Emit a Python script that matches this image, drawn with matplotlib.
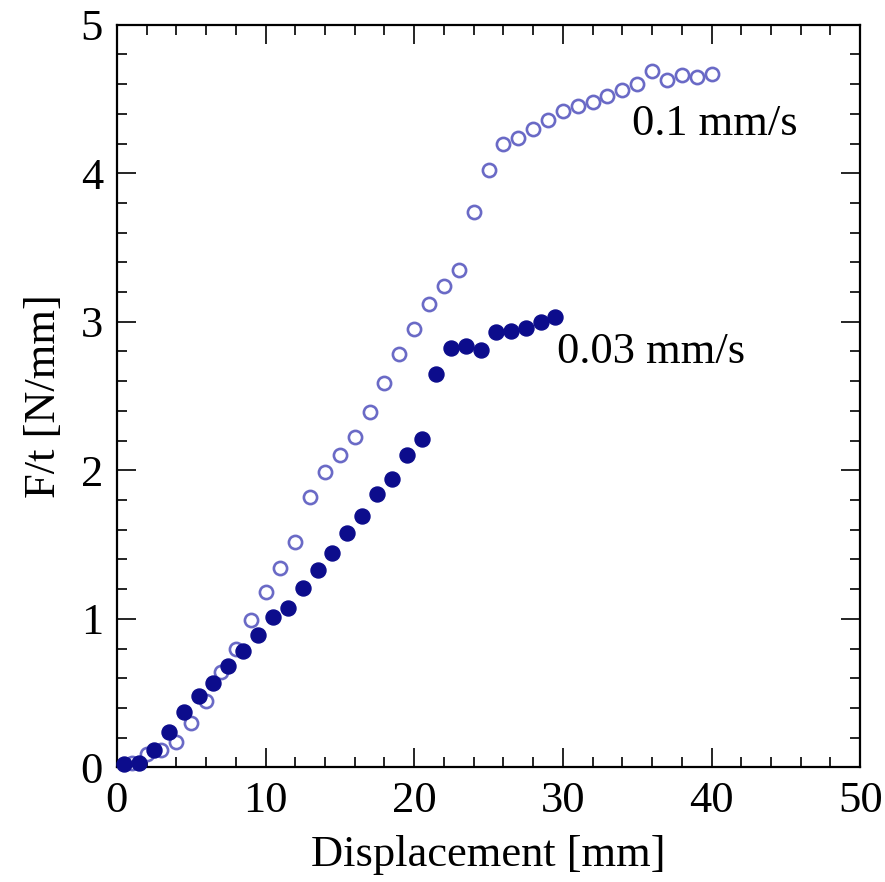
import matplotlib.pyplot as plt
import numpy as np

plt.rcParams['font.family'] = ['Liberation Serif', 'DejaVu Serif']

# 0.1 mm/s (open circles)
x_fast = list(range(1, 41))
y_fast = [0.03, 0.09, 0.12, 0.17, 0.30, 0.45, 0.64, 0.80, 0.99, 1.18,
          1.34, 1.52, 1.82, 1.99, 2.10, 2.225, 2.39, 2.59, 2.78, 2.95,
          3.12, 3.24, 3.35, 3.74, 4.02, 4.20, 4.24, 4.30, 4.36, 4.42,
          4.45, 4.48, 4.52, 4.56, 4.60, 4.69, 4.63, 4.66, 4.65, 4.67]

# 0.03 mm/s (filled circles)
x_slow = [i + 0.5 for i in range(30)]
y_slow = [0.02, 0.03, 0.12, 0.24, 0.37, 0.48, 0.57, 0.68, 0.78, 0.89,
          1.01, 1.07, 1.21, 1.33, 1.44, 1.58, 1.69, 1.84, 1.94, 2.10,
          2.21, 2.645, 2.82, 2.84, 2.81, 2.93, 2.94, 2.96, 3.00, 3.03]

fig = plt.figure(figsize=(8.85, 8.82), dpi=100)
ax = fig.add_axes([0.132, 0.130, 0.840, 0.842])

ax.plot(x_fast, y_fast, 'o', ms=9.5, mfc='white', mec='#6a6ac6', mew=1.9,
        clip_on=False, zorder=3)
ax.plot(x_slow, y_slow, 'o', ms=10.8, mfc='#0c0c8c', mec='#0c0c8c',
        clip_on=False, zorder=4)

ax.text(34.66, 4.26, '0.1 mm/s', fontsize=32, va='baseline', ha='left')
ax.text(29.6, 2.72, '0.03 mm/s', fontsize=32, va='baseline', ha='left')

ax.set_xlim(0, 50)
ax.set_ylim(0, 5)
ax.set_xticks(np.arange(0, 51, 10))
ax.set_xticks(np.arange(0, 51, 2), minor=True)
ax.set_yticks(np.arange(0, 5.1, 1))
ax.set_yticks(np.arange(0, 5.01, 0.2), minor=True)

ax.tick_params(which='both', direction='in', top=True, right=True,
               labelsize=32, width=1.2)
ax.tick_params(which='major', length=14, pad=10)
ax.tick_params(which='minor', length=7)
for s in ax.spines.values():
    s.set_linewidth(1.6)

ax.set_xlabel('Displacement [mm]', fontsize=32, labelpad=10)
ax.set_ylabel('F/t [N/mm]', fontsize=32, labelpad=12)

fig.savefig('out.png', dpi=100)
